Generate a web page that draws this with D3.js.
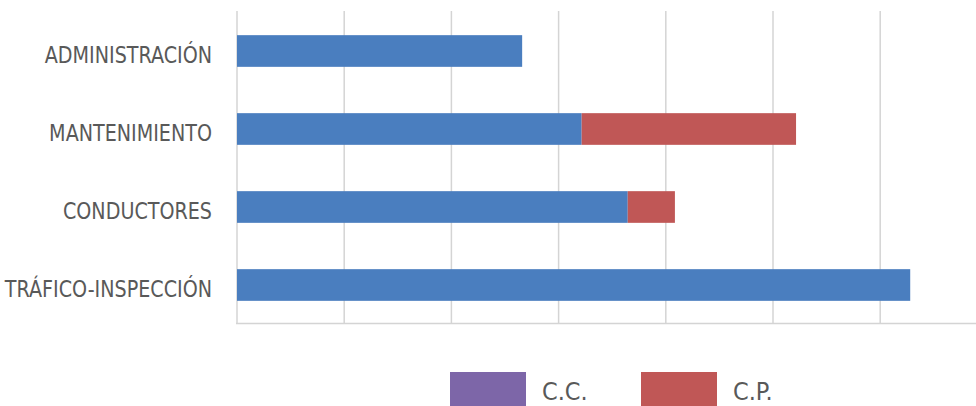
<!DOCTYPE html>
<html>
<head>
<meta charset="utf-8">
<script src="https://cdn.jsdelivr.net/npm/d3@7"></script>
<style>
  body { margin: 0; background: #fff; }
  svg { display: block; }
  .lbl { font-family: "Liberation Sans Narrow", "DejaVu Sans Condensed", "Open Sans", sans-serif; fill: #595959; }
</style>
</head>
<body>
<div id="chart"></div>
<script>
// categories top to bottom
const categories = ["ADMINISTRACIÓN", "MANTENIMIENTO", "CONDUCTORES", "TRÁFICO-INSPECCIÓN"];
// stacked series (blue has no legend entry in the original)
const baseValues = [2.66, 3.215, 3.645, 6.28];
const ccValues = [0, 0, 0, 0];
const cpValues = [0, 2.0, 0.44, 0];
const gridTicks = [0, 1, 2, 3, 4, 5, 6, 7];

const seriesNames = ["base", "C.C.", "C.P."];
const colors = { "base": "#4a7ebf", "C.C.": "#7d66a8", "C.P.": "#c05756" };
const legendNames = ["C.C.", "C.P."];

const W = 976, H = 406;
const svg = d3.select("#chart").append("svg").attr("width", W).attr("height", H);

const rows = categories.map((c, i) => ({ cat: c, "base": baseValues[i], "C.C.": ccValues[i], "C.P.": cpValues[i] }));
const stacked = d3.stack().keys(seriesNames)(rows);

const x = d3.scaleLinear().domain([0, 7]).range([237, 987.4]);
const y = d3.scaleBand().domain(categories).range([12, 324]).paddingInner(0.594).paddingOuter(0.297);

// gridlines
svg.append("g")
  .selectAll("line")
  .data(gridTicks)
  .enter()
  .append("line")
  .attr("x1", (d) => x(d)).attr("x2", (d) => x(d))
  .attr("y1", 11).attr("y2", 323.5)
  .attr("stroke", "#d4d4d4")
  .attr("stroke-width", 1.5);

// bottom axis line
svg.append("line")
  .attr("x1", 236).attr("x2", W)
  .attr("y1", 323.5).attr("y2", 323.5)
  .attr("stroke", "#d4d4d4")
  .attr("stroke-width", 1.5);

// bars
svg.append("g")
  .selectAll("g")
  .data(stacked)
  .enter()
  .append("g")
  .attr("fill", (s) => colors[s.key])
  .selectAll("rect")
  .data((s) => s)
  .enter()
  .append("rect")
  .attr("x", (d) => x(d[0]))
  .attr("y", (d) => y(d.data.cat))
  .attr("width", (d) => x(d[1]) - x(d[0]))
  .attr("height", y.bandwidth());

// category labels (squeezed a bit to match the narrow original font)
svg.append("g")
  .selectAll("text")
  .data(categories)
  .enter()
  .append("text")
  .attr("class", "lbl")
  .attr("transform", (d) => `translate(212,${y(d) + y.bandwidth() / 2 + 12}) scale(0.925,1)`)
  .attr("text-anchor", "end")
  .style("font-size", "23px")
  .text((d) => d);

// legend
const legendX = [450, 641];
const legend = svg.append("g")
  .selectAll("g")
  .data(legendNames)
  .enter()
  .append("g")
  .attr("transform", (d, i) => `translate(${legendX[i]},372)`);
legend.append("rect")
  .attr("width", 76).attr("height", 34)
  .attr("fill", (d) => colors[d]);
legend.append("text")
  .attr("class", "lbl")
  .attr("x", 92).attr("y", 28)
  .style("font-size", "25px")
  .text((d) => d);
</script>
</body>
</html>
